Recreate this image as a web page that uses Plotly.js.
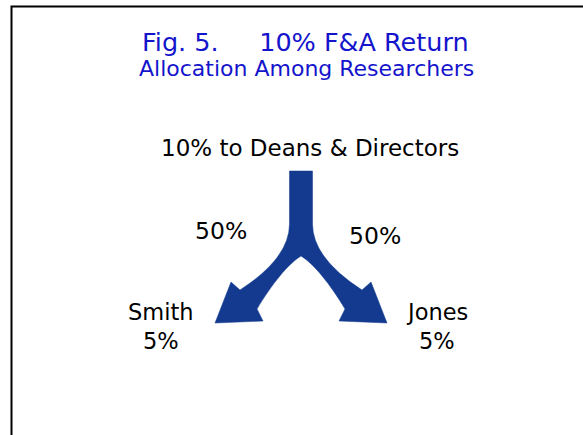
<!DOCTYPE html>
<html>
<head>
<meta charset="utf-8">
<script src="https://cdn.plot.ly/plotly-3.0.1.min.js"></script>
<style>html,body{margin:0;padding:0;background:#fff;}#chart{width:583px;height:435px;}</style>
</head>
<body>
<div id="chart"></div>
<script>
// ---- content ----
var titleLine1 = "Fig. 5.\u00a0\u00a0\u00a0\u00a0\u00a010% F&A Return";
var titleLine2 = "Allocation Among Researchers";
var sourceLabel = "10% to Deans & Directors";
var splitLabels = ["50%", "50%"];
var researchers = ["Smith", "Jones"];
var researcherShares = ["5%", "5%"];

// ---- geometry (pixel space: x 0..583, y 0..435 downward) ----
var W = 583, H = 435;
var cx = 301;
var arrowColor = "#133a8e";
var blue = "#1414cc";
var FONT = "DejaVu Sans, Verdana, sans-serif";

function mx(x) { return 2 * cx - x; }
function p(x, y) { return x + "," + y; }

var L = {
  stemTopY: 171, stemHalf: 11.5, stemBotY: 224,
  outerCtrl: [289.5, 258], outerEnd: [240, 290],
  upperBarb: [231, 282], tip: [215, 323], lowerBarb: [263, 321],
  innerEnd: [257, 309], innerC1: [272, 284], innerC2: [288, 264], crotch: [cx, 256]
};
var sl = cx - L.stemHalf, sr = cx + L.stemHalf;
var path = "M" + p(sl, L.stemTopY) + " L" + p(sr, L.stemTopY) + " L" + p(sr, L.stemBotY) +
  " Q" + p(mx(L.outerCtrl[0]), L.outerCtrl[1]) + " " + p(mx(L.outerEnd[0]), L.outerEnd[1]) +
  " L" + p(mx(L.upperBarb[0]), L.upperBarb[1]) +
  " L" + p(mx(L.tip[0]), L.tip[1]) +
  " L" + p(mx(L.lowerBarb[0]), L.lowerBarb[1]) +
  " L" + p(mx(L.innerEnd[0]), L.innerEnd[1]) +
  " C" + p(mx(L.innerC1[0]), L.innerC1[1]) + " " + p(mx(L.innerC2[0]), L.innerC2[1]) + " " + p(L.crotch[0], L.crotch[1]) +
  " C" + p(L.innerC2[0], L.innerC2[1]) + " " + p(L.innerC1[0], L.innerC1[1]) + " " + p(L.innerEnd[0], L.innerEnd[1]) +
  " L" + p(L.lowerBarb[0], L.lowerBarb[1]) +
  " L" + p(L.tip[0], L.tip[1]) +
  " L" + p(L.upperBarb[0], L.upperBarb[1]) +
  " L" + p(L.outerEnd[0], L.outerEnd[1]) +
  " Q" + p(L.outerCtrl[0], L.outerCtrl[1]) + " " + p(sl, L.stemBotY) + " Z";

function ann(text, x, y, size, color) {
  return {text: text, x: x, y: y, xref: "x", yref: "y", showarrow: false,
    xanchor: "center", yanchor: "middle", font: {family: FONT, size: size, color: color}};
}

var annotations = [
  ann(titleLine1, 305, 42, 25.5, blue),
  ann(titleLine2, 306, 68, 22, blue),
  ann(sourceLabel, 310, 148, 23, "#000"),
  ann(splitLabels[0], 221, 231, 23.5, "#000"),
  ann(splitLabels[1], 375, 236, 23.5, "#000"),
  ann(researchers[0], 161, 312, 22.5, "#000"),
  ann(researcherShares[0], 161, 341, 22.5, "#000"),
  ann(researchers[1], 437, 312, 22.5, "#000"),
  ann(researcherShares[1], 437, 341, 22.5, "#000")
];

var layout = {
  width: W, height: H,
  margin: {l: 0, r: 0, t: 0, b: 0},
  paper_bgcolor: "#fff", plot_bgcolor: "#fff",
  xaxis: {range: [0, W], visible: false, fixedrange: true},
  yaxis: {range: [H, 0], visible: false, fixedrange: true},
  showlegend: false,
  shapes: [
    {type: "rect", xref: "x", yref: "y", x0: 11.5, y0: 6.5, x1: 700, y1: 600,
      line: {color: "#000", width: 2}, fillcolor: "rgba(0,0,0,0)"},
    {type: "path", xref: "x", yref: "y", path: path, fillcolor: arrowColor,
      line: {color: arrowColor, width: 0.5}}
  ],
  annotations: annotations
};

Plotly.newPlot("chart", [{x: [], y: [], type: "scatter"}], layout, {staticPlot: true, displayModeBar: false});
</script>
</body>
</html>
